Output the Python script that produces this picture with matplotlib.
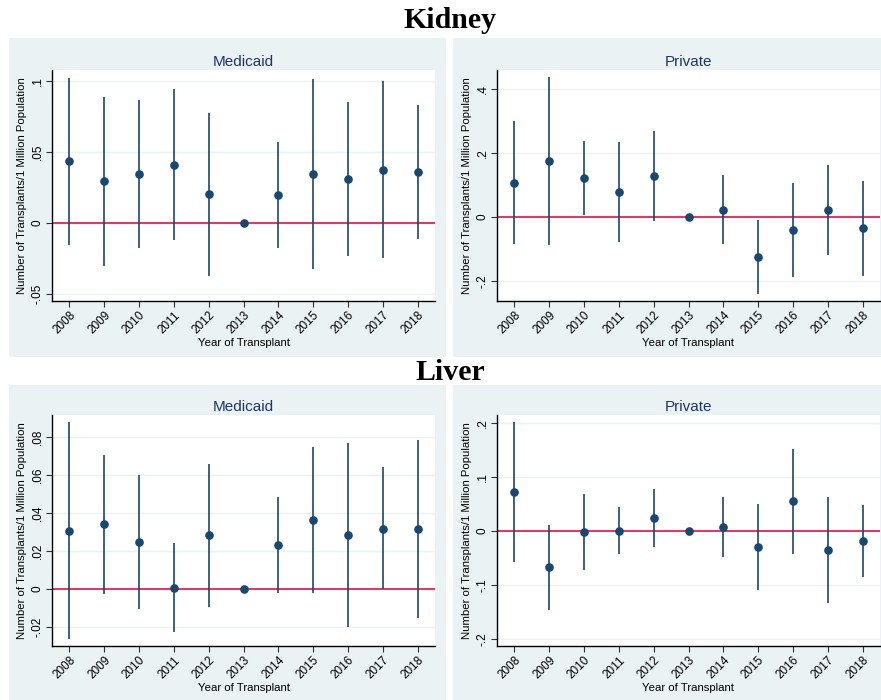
import matplotlib.pyplot as plt
from matplotlib.patches import Rectangle

plt.rcParams['font.family'] = ['Liberation Sans', 'DejaVu Sans']

years = [2008, 2009, 2010, 2011, 2012, 2013, 2014, 2015, 2016, 2017, 2018]

# kidney, medicaid
kid_med = [0.0432, 0.0292, 0.0343, 0.0409, 0.0203, 0.0, 0.0199, 0.0346, 0.0311, 0.0374, 0.0355]
kid_med_lo = [-0.0157, -0.0304, -0.0180, -0.0121, -0.0371, 0.0, -0.0178, -0.0322, -0.0231, -0.0250, -0.0117]
kid_med_hi = [0.1019, 0.0883, 0.0864, 0.0939, 0.0776, 0.0, 0.0568, 0.1014, 0.0853, 0.0998, 0.0829]

# kidney, private
kid_pri = [0.1076, 0.1755, 0.1211, 0.0783, 0.1274, 0.0, 0.0230, -0.1264, -0.0418, 0.0209, -0.0345]
kid_pri_lo = [-0.0846, -0.0867, 0.0063, -0.0773, -0.0125, 0.0, -0.0846, -0.2413, -0.1890, -0.1190, -0.1838]
kid_pri_hi = [0.3008, 0.4366, 0.2371, 0.2350, 0.2684, 0.0, 0.1326, -0.0094, 0.1055, 0.1619, 0.1138]

# liver, medicaid
liv_med = [0.0304, 0.0339, 0.0245, 0.0007, 0.0281, 0.0, 0.0229, 0.0362, 0.0281, 0.0316, 0.0315]
liv_med_lo = [-0.0262, -0.0026, -0.0107, -0.0227, -0.0093, 0.0, -0.0023, -0.0019, -0.0201, -0.0002, -0.0150]
liv_med_hi = [0.0874, 0.0705, 0.0596, 0.0243, 0.0654, 0.0, 0.0483, 0.0745, 0.0766, 0.0638, 0.0781]

# liver, private
liv_pri = [0.0721, -0.0672, -0.0018, 0.0006, 0.0240, 0.0, 0.0080, -0.0296, 0.0549, -0.0357, -0.0185]
liv_pri_lo = [-0.0573, -0.1455, -0.0721, -0.0425, -0.0296, 0.0, -0.0475, -0.1091, -0.0425, -0.1325, -0.0844]
liv_pri_hi = [0.2009, 0.0105, 0.0684, 0.0438, 0.0777, 0.0, 0.0629, 0.0499, 0.1516, 0.0622, 0.0475]

BG = '#eaf2f3'
NAVY = '#1a476f'
RED = '#d0406a'

W, H = 881, 700
fig = plt.figure(figsize=(W / 100, H / 100), dpi=100)


def px_rect(x0, y0, x1, y1):
    return [x0 / W, 1 - y1 / H, (x1 - x0) / W, (y1 - y0) / H]


# grey graph regions behind each panel
for x0, y0, x1, y1 in [(9, 38, 446, 357), (453, 38, 881, 357),
                       (9, 385, 446, 700), (453, 385, 881, 700)]:
    l, b, w, h = px_rect(x0, y0, x1, y1)
    fig.patches.append(Rectangle((l, b), w, h, transform=fig.transFigure,
                                 facecolor=BG, edgecolor='none', zorder=-5))


def panel(rect, title, est, lo, hi, ylim, yticks, ylabels):
    ax = fig.add_axes(px_rect(*rect))
    ax.set_zorder(2)
    ax.set_facecolor('white')
    for y in yticks:
        ax.axhline(y, color=BG, lw=1.0, zorder=0)
    ax.axhline(0, color=RED, lw=1.5, zorder=1)
    ax.vlines(years, lo, hi, color=NAVY, lw=1.2, zorder=2)
    ax.plot(years, est, 'o', color=NAVY, ms=5.2, zorder=3)
    ax.set_xlim(2007.5, 2018.5)
    ax.set_ylim(*ylim)
    ax.set_xticks(years)
    ax.set_xticklabels([str(y) for y in years], rotation=45, ha='right',
                       rotation_mode='anchor', fontsize=8.5)
    ax.set_yticks(yticks)
    ax.set_yticklabels(ylabels, rotation=90, va='center', fontsize=8.5)
    ax.tick_params(length=4, width=0.8, color='#333333', pad=2)
    for s in ['top', 'right']:
        ax.spines[s].set_visible(False)
    for s in ['left', 'bottom']:
        ax.spines[s].set_linewidth(1.0)
    ax.set_title(title, fontsize=11, color='#1f3566', pad=3)
    ax.set_xlabel('Year of Transplant', fontsize=8.2, labelpad=1)
    ax.set_ylabel('Number of Transplants/1 Million Population', fontsize=8.2, labelpad=3)
    return ax


panel((52, 70, 435, 301), 'Medicaid', kid_med, kid_med_lo, kid_med_hi,
      (-0.055, 0.1075), [-0.05, 0, 0.05, 0.1], ['-.05', '0', '.05', '.1'])
panel((497, 70, 880, 301), 'Private', kid_pri, kid_pri_lo, kid_pri_hi,
      (-0.263, 0.4595), [-0.2, 0, 0.2, 0.4], ['-.2', '0', '.2', '.4'])
panel((52, 415, 435, 646), 'Medicaid', liv_med, liv_med_lo, liv_med_hi,
      (-0.0299, 0.0913), [-0.02, 0, 0.02, 0.04, 0.06, 0.08],
      ['-.02', '0', '.02', '.04', '.06', '.08'])
panel((497, 415, 880, 646), 'Private', liv_pri, liv_pri_lo, liv_pri_hi,
      (-0.2126, 0.2145), [-0.2, -0.1, 0, 0.1, 0.2], ['-.2', '-.1', '0', '.1', '.2'])

fig.text(450 / W, 1 - 20 / H, 'Kidney', ha='center', va='center', fontsize=21.5,
         fontweight='bold', family='Liberation Serif')
fig.text(450 / W, 1 - 372 / H, 'Liver', ha='center', va='center', fontsize=21.5,
         fontweight='bold', family='Liberation Serif')

fig.savefig('out.png', dpi=100, facecolor='white')
